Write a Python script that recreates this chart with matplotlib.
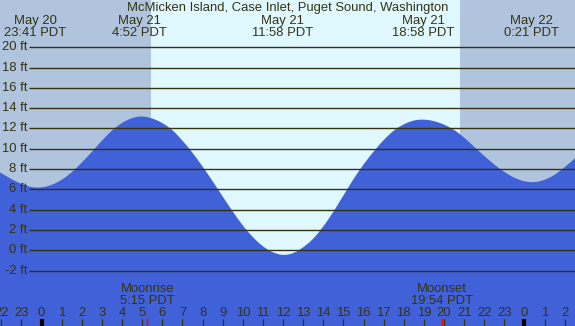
import numpy as np
import matplotlib
matplotlib.use("Agg")
import matplotlib.pyplot as plt

# ---- data ----
title = "McMicken Island, Case Inlet, Puget Sound, Washington"
# hours relative to May 21 00:00 PDT, sampled every half hour
times = np.arange(-2.5, 27.01, 0.5)
heights = [8.2, 7.6, 7.02, 6.55, 6.23, 6.2, 6.45, 6.95, 7.7, 8.65,
           9.7, 10.8, 11.8, 12.55, 13.02, 13.18, 12.98, 12.53, 11.83, 10.8,
           9.6, 8.25, 6.8, 5.3, 3.82, 2.45, 1.3, 0.4, -0.2, -0.45,
           -0.28, 0.3, 1.15, 2.35, 3.8, 5.4, 7.0, 8.45, 9.72, 10.85,
           11.78, 12.4, 12.78, 12.87, 12.72, 12.38, 11.85, 11.1, 10.2, 9.3,
           8.45, 7.72, 7.15, 6.8, 6.72, 6.95, 7.45, 8.2, 9.05, 9.95]
extreme_times = [-0.317, 4.867, 11.967, 18.967, 24.35]
extreme_dates = ["May 20", "May 21", "May 21", "May 21", "May 22"]
extreme_labels = ["23:41 PDT", "4:52 PDT", "11:58 PDT", "18:58 PDT", "0:21 PDT"]
sunrise, sunset = 5.437, 20.80
moon_times = [5.25, 19.9]
moon_names = ["Moonrise", "Moonset"]
moon_labels = ["5:15 PDT", "19:54 PDT"]
grid_levels = list(range(-2, 21, 2))
hour_ticks = list(range(-2, 27))
midnights = [0, 24]

# ---- style ----
night = "#b0c4de"
day = "#e0f8ff"
water = "#4161d8"
ink = "#333311"
x0, x1 = -2.068, 26.51
y0, y1 = -7.46, 24.66
plt.rcParams['font.family'] = ['Liberation Sans', 'DejaVu Sans']
fs = 9.4


def smooth(xs, ys, n=12):
    """Catmull-Rom rendering of the sampled curve."""
    xs = np.asarray(xs, float)
    ys = np.asarray(ys, float)
    px = np.concatenate([[2 * xs[0] - xs[1]], xs, [2 * xs[-1] - xs[-2]]])
    py = np.concatenate([[2 * ys[0] - ys[1]], ys, [2 * ys[-1] - ys[-2]]])
    outx, outy = [], []
    for i in range(1, len(px) - 2):
        s = np.linspace(0, 1, n, endpoint=False)
        p0, p1, p2, p3 = py[i - 1], py[i], py[i + 1], py[i + 2]
        yy = 0.5 * ((2 * p1) + (-p0 + p2) * s + (2 * p0 - 5 * p1 + 4 * p2 - p3) * s ** 2
                    + (-p0 + 3 * p1 - 3 * p2 + p3) * s ** 3)
        xx = px[i] + (px[i + 1] - px[i]) * s
        outx.append(xx)
        outy.append(yy)
    outx.append([xs[-1]])
    outy.append([ys[-1]])
    return np.concatenate(outx), np.concatenate(outy)


fig = plt.figure(figsize=(5.75, 3.26), dpi=100)
ax = fig.add_axes([0, 0, 1, 1])
ax.set_xlim(x0, x1)
ax.set_ylim(y0, y1)
ax.axis('off')
ax.axvspan(x0, x1, color=night, zorder=0, lw=0)
ax.axvspan(sunrise, sunset, color=day, zorder=1, lw=0)
sx, sy = smooth(times, heights)
ax.fill_between(sx, sy, y0, color=water, lw=0, zorder=2)

# grid lines
gx_start = x0 + 29.3 / 20.12
for g in grid_levels:
    ax.plot([gx_start, x1], [g, g], color=ink, lw=1.0, zorder=3, solid_capstyle='butt')
    ax.text(gx_start - 0.1, g, f"{g} ft", ha='right', va='center', fontsize=fs, color=ink, zorder=4)

# title and extremes
ax.text((x0 + x1) / 2, 23.58, title, ha='center', va='baseline', fontsize=fs, color=ink, zorder=5)
for t, d, l in zip(extreme_times, extreme_dates, extreme_labels):
    ax.text(t, 22.3, d, ha='center', va='baseline', fontsize=fs, color=ink, zorder=5)
    ax.text(t, 21.11, l, ha='center', va='baseline', fontsize=fs, color=ink, zorder=5)

# moon
for t, n, l in zip(moon_times, moon_names, moon_labels):
    ax.text(t, -4.08, n, ha='center', va='baseline', fontsize=fs, color=ink, zorder=5)
    ax.text(t, -5.32, l, ha='center', va='baseline', fontsize=fs, color=ink, zorder=5)
    ax.plot([t, t], [y0, -6.75], color='red', lw=1.0, zorder=4)

# hour ticks
for h in hour_ticks:
    ax.text(h, -6.47, str(h % 24), ha='center', va='baseline', fontsize=fs, color=ink, zorder=5)
    if h in midnights:
        ax.plot([h, h], [y0, -6.8], color='black', lw=3.0, zorder=4, solid_capstyle='butt')
    else:
        ax.plot([h, h], [y0, -6.8], color=ink, lw=0.9, zorder=4, solid_capstyle='butt')

fig.savefig("out.png", dpi=100)
